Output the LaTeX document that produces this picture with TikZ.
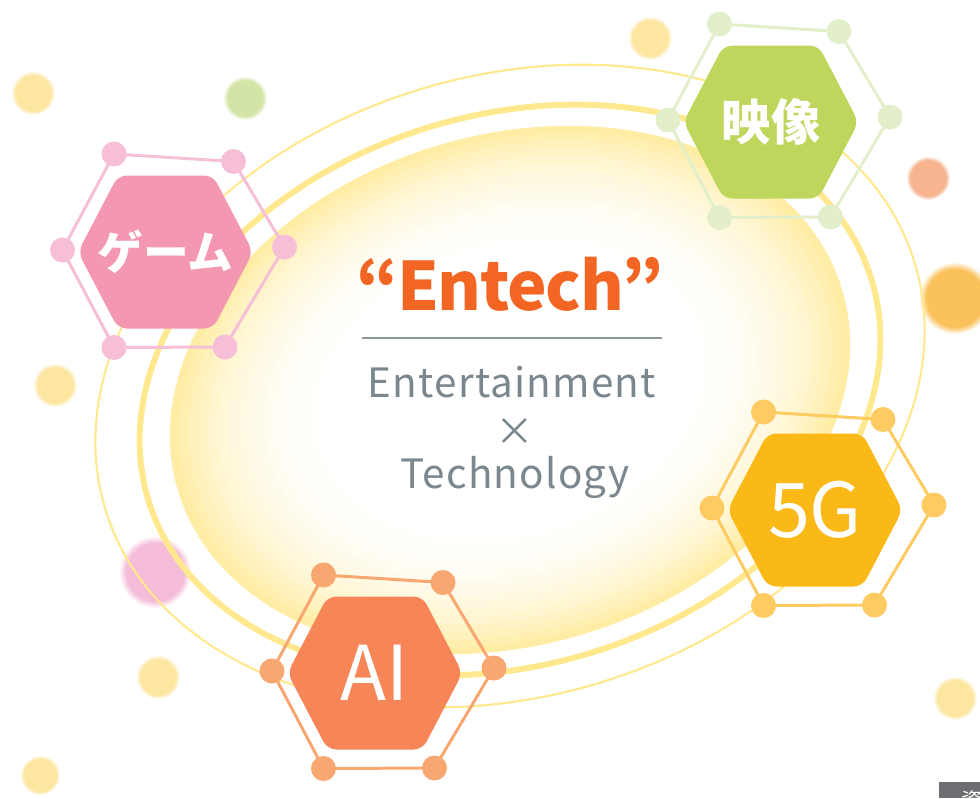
\documentclass[tikz,border=0pt]{standalone}
\usepackage{fontspec}
\setmainfont{Noto Sans CJK JP}
\usetikzlibrary{fadings}

\definecolor{entechorange}{HTML}{F26522}
\definecolor{subgrey}{HTML}{7A878E}
\definecolor{rulegrey}{HTML}{8D979C}
\definecolor{blobyellow}{HTML}{FFEDA6}
\definecolor{ringyellow}{HTML}{FFE88E}
\definecolor{gamefill}{HTML}{F497B0}
\definecolor{gameline}{HTML}{F6BFD7}
\definecolor{eizofill}{HTML}{BDD65B}
\definecolor{eizoline}{HTML}{E3EECB}
\definecolor{fivegfill}{HTML}{FBB918}
\definecolor{fivegline}{HTML}{FDCB61}
\definecolor{aifill}{HTML}{F68657}
\definecolor{ailine}{HTML}{F8A770}
\definecolor{dotyellow}{HTML}{FDE6A0}
\definecolor{dotgreen}{HTML}{D3E5A6}
\definecolor{dotorange}{HTML}{F7B48E}
\definecolor{dotamber}{HTML}{FBC25C}
\definecolor{dotpink}{HTML}{F4BCD9}
\definecolor{boxgrey}{HTML}{6D6E71}

\tikzset{
  softdot/.style={path fading=circle with fuzzy edge 20 percent},
  hexlabel/.style={text=white, inner sep=0pt},
  gamelabel/.style={font=\bfseries\fontsize{26}{30}\selectfont},
  eizolabel/.style={font=\bfseries\fontsize{28}{32}\selectfont},
  bigglabel/.style={font=\fontsize{43}{48}\selectfont},
  sublabel/.style={text=subgrey, font=\fontsize{23}{26}\selectfont\addfontfeature{LetterSpace=3}},
}

\begin{document}
\begin{tikzpicture}[x=0.02cm,y=-0.02cm,line cap=round,line join=round]
\useasboundingbox (0,0) rectangle (980,798);
% blurred dots in the background
\foreach \px/\py/\r/\c in {33/93/22/dotyellow, 245/98/22/dotgreen, 650/38/22/dotyellow,
    645/188/22/dotgreen, 928/178/22/dotorange, 955/298/36/dotamber, 768/370/22/dotorange,
    55/385/22/dotyellow, 302/498/22/dotgreen, 155/572/36/dotpink, 158/677/22/dotyellow,
    955/698/22/dotyellow, 40/775/20/dotyellow}
  \fill[\c, softdot] (\px,\py) circle (\r);
% central blob, white in the middle
\foreach \k in {0,...,20}{
  \pgfmathsetmacro{\sc}{1-0.028*\k}
  \pgfmathtruncatemacro{\mx}{100*((20-\k)/20)^2.6}
  \fill[blobyellow!\mx!white, rotate around={17:(510,390)}] (510,390) ellipse ({347*\sc} and {255*\sc});
}
% rings
\draw[ringyellow, line width=3.4pt, rotate around={17:(510,390)}] (510,390) ellipse (378 and 275);
\draw[ringyellow, line width=1.2pt, rotate around={17:(510,386)}] (510,386) ellipse (423 and 310);
% hexagon badges
\foreach \nm/\cx/\cy/\fc/\lc/\st/\txt in {game/165.5/252/gamefill/gameline/gamelabel/ゲーム,
    eizo/771/122/eizofill/eizoline/eizolabel/映像,
    fiveg/815/510/fivegfill/fivegline/bigglabel/5G,
    ai/375/673/aifill/ailine/bigglabel/AI}{
  \begin{scope}[shift={(\cx,\cy)}]
    \draw[\lc, line width=1.7pt] (-51.5,-98) -- (68,-90.5) -- (119,-5) -- (59.5,95) -- (-51.5,95.5) -- (-103,-2) -- cycle;
    \foreach \vx/\vy in {-51.5/-98, 68/-90.5, 119/-5, 59.5/95, -51.5/95.5, -103/-2}
      \fill[\lc] (\vx,\vy) circle (12.5);
    \fill[\fc, rounded corners=5pt] (-87.5,0) -- (-47.5,-76.5) -- (47.5,-76.5) -- (87.5,0) -- (47.5,76.5) -- (-47.5,76.5) -- cycle;
    \node[hexlabel, \st] (\nm) at (0,0) {\txt};
  \end{scope}
}
% title
\node[anchor=base, text=entechorange, font=\bfseries\fontsize{38}{44}\selectfont\addfontfeature{LetterSpace=-2}] (title) at (510,310) {“Entech”};
\coordinate (ruleL) at (362,338);
\coordinate (ruleR) at (662,338);
\draw[rulegrey, line width=1.2pt, line cap=butt] (ruleL) -- (ruleR);
\node[anchor=base, sublabel] (ent) at (512,397) {Entertainment};
\node[text=subgrey, font=\fontsize{22}{24}\selectfont] (times) at (515,432) {×};
\node[anchor=base, sublabel] (tech) at (515,488) {Technology};
% cut-off tab in the corner
\fill[boxgrey] (939,782) rectangle (980,798);
\begin{scope}
  \clip (939,782) rectangle (980,798);
  \node[anchor=north west, inner sep=0pt, text=white, font=\fontsize{12}{14}\selectfont] (tab) at (961,790) {資料};
\end{scope}
\end{tikzpicture}
\end{document}
